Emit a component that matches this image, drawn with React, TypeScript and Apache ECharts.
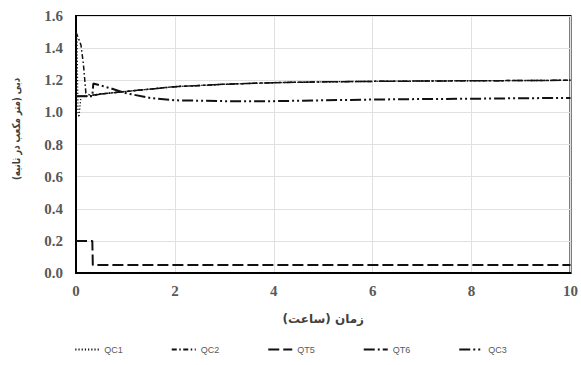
import React, { useEffect, useRef } from "react";
import * as echarts from "echarts";

const xTicks = [0, 2, 4, 6, 8, 10];
const seriesNames = ["QC1", "QC2", "QT5", "QT6", "QC3"];
const xTitle = "زمان (ساعت)";
const yTitle = "دبی (متر مکعب در ثانیه)";

const qc1T = [0, 0.02, 0.04, 0.06, 0.1, 0.2, 0.3, 0.5, 1, 2, 3, 4, 5, 6, 7, 8, 9, 10];
const qc1V = [1.5, 1.45, 1.0, 0.97, 1.1, 1.1, 1.105, 1.115, 1.13, 1.16, 1.175, 1.185, 1.19, 1.193, 1.195, 1.197, 1.198, 1.2];

const qc2T = [0, 0.1, 0.15, 0.2, 0.3, 0.5, 1, 2, 3, 4, 5, 6, 7, 8, 9, 10];
const qc2V = [1.5, 1.42, 1.3, 1.12, 1.105, 1.115, 1.13, 1.16, 1.175, 1.185, 1.19, 1.193, 1.195, 1.197, 1.198, 1.2];

const qt5T = [0, 0.33, 0.34, 10];
const qt5V = [0.2, 0.2, 0.05, 0.05];

const qt6T = [0, 0.3, 0.5, 1, 2, 3, 4, 5, 6, 7, 8, 9, 10];
const qt6V = [1.1, 1.1, 1.115, 1.13, 1.16, 1.175, 1.185, 1.19, 1.193, 1.195, 1.197, 1.198, 1.2];

const qc3T = [0, 0.33, 0.35, 0.7, 1, 1.5, 2, 3, 4, 5, 6, 7, 8, 9, 10];
const qc3V = [1.1, 1.1, 1.18, 1.15, 1.12, 1.09, 1.075, 1.07, 1.07, 1.075, 1.08, 1.083, 1.085, 1.088, 1.09];

const pairs = (t: number[], v: number[]) => t.map((x, i) => [x, v[i]]);

export default function App() {
  const ref = useRef<HTMLDivElement>(null);
  useEffect(() => {
    const chart = echarts.init(ref.current!, null, { renderer: "svg" });
    const dashes: any[] = [
      [1.2, 2],
      [5, 2.5, 1.5, 2.5],
      [11, 4],
      [11, 3, 2, 3],
      [11, 3, 2, 3, 2, 3],
    ];
    const widths = [1.3, 1.5, 2, 1.5, 2];
    const data = [
      pairs(qc1T, qc1V),
      pairs(qc2T, qc2V),
      pairs(qt5T, qt5V),
      pairs(qt6T, qt6V),
      pairs(qc3T, qc3V),
    ];
    const tickFont = {
      fontFamily: "'Liberation Serif', 'DejaVu Serif', serif",
      fontWeight: "bold" as const,
      fontSize: 15,
      color: "#595959",
    };
    chart.setOption({
      animation: false,
      grid: {
        left: 76,
        right: 10,
        top: 16,
        bottom: 92,
        show: true,
        borderColor: "#000",
        borderWidth: 2,
      },
      graphic: [
        {
          type: "text",
          x: 16,
          y: 129,
          rotation: Math.PI / 2,
          scaleX: 0.78,
          style: {
            text: yTitle,
            align: "center",
            verticalAlign: "middle",
            fontFamily: "'DejaVu Sans', sans-serif",
            fontWeight: "bold",
            fontSize: 11,
            fill: "#404040",
          },
        },
      ],
      xAxis: {
        type: "value",
        min: 0,
        max: 10,
        interval: 2,
        axisLine: { show: true, lineStyle: { color: "#000", width: 2 } },
        axisTick: { show: false },
        splitLine: { show: true, lineStyle: { color: "#e0e0e0", width: 1 } },
        axisLabel: { ...tickFont, margin: 10, formatter: (v: number) => (xTicks.includes(v) ? String(v) : "") },
        name: xTitle,
        nameLocation: "middle",
        nameGap: 40,
        nameTextStyle: {
          fontFamily: "'DejaVu Sans', sans-serif",
          fontWeight: "bold",
          fontSize: 12,
          color: "#404040",
        },
      },
      yAxis: {
        type: "value",
        min: 0,
        max: 1.6,
        interval: 0.2,
        axisLine: { show: true, lineStyle: { color: "#000", width: 2 } },
        axisTick: { show: false },
        splitLine: { show: true, lineStyle: { color: "#e0e0e0", width: 1 } },
        axisLabel: { ...tickFont, margin: 13, formatter: (v: number) => v.toFixed(1) },
      },
      legend: {
        bottom: 6,
        left: "center",
        itemWidth: 24,
        itemHeight: 8,
        itemGap: 48,
        itemStyle: { opacity: 0, borderWidth: 0 },
        textStyle: { fontFamily: "'Liberation Sans', sans-serif", fontSize: 9, color: "#595959" },
        data: seriesNames,
      },
      series: seriesNames.map((name, i) => ({
        name,
        type: "line",
        data: data[i],
        showSymbol: false,
        symbol: "none",
        lineStyle: { color: "#111", width: widths[i], type: dashes[i] },
        itemStyle: { color: "#111" },
      })),
    });
    return () => chart.dispose();
  }, []);
  return (
    <div
      ref={ref}
      style={{ position: "fixed", left: 0, top: 0, width: 581, height: 365, background: "#fff" }}
    />
  );
}
